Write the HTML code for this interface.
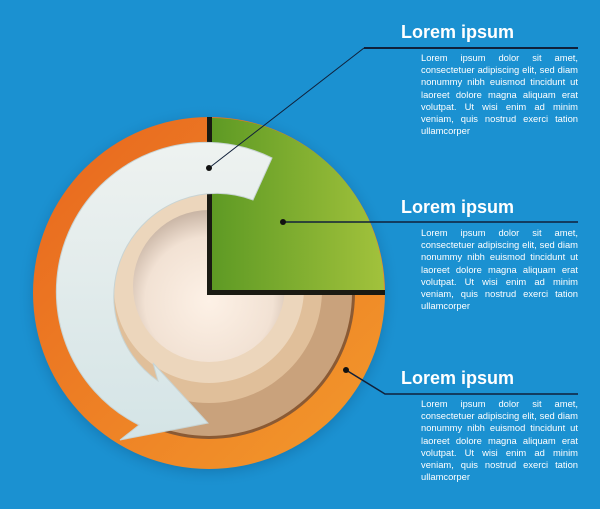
<!DOCTYPE html>
<html><head><style>
html,body{margin:0;padding:0;}
body{width:600px;height:509px;background:#1b91d1;position:relative;overflow:hidden;font-family:"Liberation Sans",sans-serif;}
.t{position:absolute;left:401px;color:#fff;font-weight:bold;font-size:18px;}
.p{position:absolute;left:421px;width:157px;color:#fff;font-size:9.4px;line-height:12.2px;text-align:justify;text-align-last:left;}
svg{position:absolute;left:0;top:0;}
</style></head><body>
<svg width="600" height="509" viewBox="0 0 600 509">
<defs>
<radialGradient id="sh" cx="0.5" cy="0.5" r="0.5"><stop offset="0.85" stop-color="#0a4f80" stop-opacity="0.6"/><stop offset="1" stop-color="#1b91d1" stop-opacity="0"/></radialGradient>
<linearGradient id="or" x1="0" y1="0" x2="1" y2="1"><stop offset="0" stop-color="#e8661e"/><stop offset="1" stop-color="#f39a2c"/></linearGradient>
<linearGradient id="gr" x1="0" y1="0" x2="1" y2="0"><stop offset="0" stop-color="#5e9a24"/><stop offset="1" stop-color="#a2c23c"/></linearGradient>
<radialGradient id="sp" cx="0.5" cy="0.6" r="0.6"><stop offset="0" stop-color="#fdf1e6"/><stop offset="0.7" stop-color="#f2e2d4"/><stop offset="1" stop-color="#c8b4a4"/></radialGradient>
<linearGradient id="wh" x1="0" y1="0" x2="0" y2="1"><stop offset="0" stop-color="#eef2f0"/><stop offset="1" stop-color="#d4e4e6"/></linearGradient>
</defs>
<circle cx="209" cy="296" r="192" fill="url(#sh)"/>
<circle cx="209" cy="293" r="176" fill="url(#or)"/>
<circle cx="209" cy="293" r="146" fill="#8a5a34"/>
<circle cx="209" cy="293" r="143" fill="#c9a27c"/>
<circle cx="209" cy="290" r="113" fill="#e0bf9a"/>
<circle cx="209" cy="288" r="95" fill="#ecd6bc"/>
<circle cx="209" cy="286" r="76" fill="url(#sp)"/>
<path d="M207 117 L207 295 L385 295 L385 290 L212 290 L212 117 Z" fill="#1a1a12"/>
<path d="M212 290 L212 118 A173 173 0 0 1 384 290 Z" fill="url(#gr)"/>
<!-- arrow -->
<path d="M272 158 A149 149 0 0 0 139 425 L120 440 L208 423 L153 363 L158 381 A103 103 0 0 1 253 200 Z" fill="url(#wh)" stroke="#c8d4d4" stroke-width="1"/>
<!-- connectors -->
<g stroke="#10203a" stroke-width="1" fill="none">
<line x1="209" y1="168" x2="364" y2="48"/>
<line x1="364" y1="48" x2="578" y2="48" stroke-width="2"/>
<line x1="283" y1="222" x2="578" y2="222" stroke-width="1.5"/>
<polyline points="346,370 385,394 578,394" stroke-width="1.5"/>
</g>
<g fill="#111"><circle cx="209" cy="168" r="3"/><circle cx="283" cy="222" r="3"/><circle cx="346" cy="370" r="3"/></g>
</svg>
<div class="t" style="top:22px">Lorem ipsum</div>
<div class="p" style="top:52px">Lorem ipsum dolor sit amet, consectetuer adipiscing elit, sed diam nonummy nibh euismod tincidunt ut laoreet dolore magna aliquam erat volutpat. Ut wisi enim ad minim veniam, quis nostrud exerci tation ullamcorper</div>
<div class="t" style="top:197px">Lorem ipsum</div>
<div class="p" style="top:227px">Lorem ipsum dolor sit amet, consectetuer adipiscing elit, sed diam nonummy nibh euismod tincidunt ut laoreet dolore magna aliquam erat volutpat. Ut wisi enim ad minim veniam, quis nostrud exerci tation ullamcorper</div>
<div class="t" style="top:368px">Lorem ipsum</div>
<div class="p" style="top:398px">Lorem ipsum dolor sit amet, consectetuer adipiscing elit, sed diam nonummy nibh euismod tincidunt ut laoreet dolore magna aliquam erat volutpat. Ut wisi enim ad minim veniam, quis nostrud exerci tation ullamcorper</div>
</body></html>
